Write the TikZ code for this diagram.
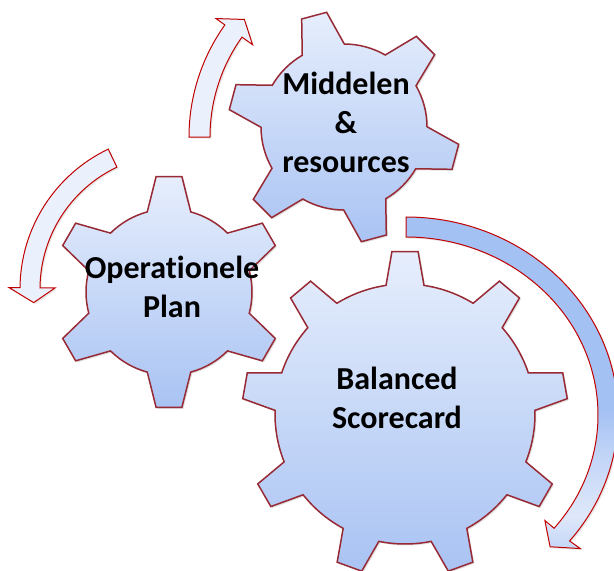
\documentclass[tikz,border=0pt]{standalone}
\usepackage{fontspec}
\setmainfont{Carlito}[Ligatures={NoCommon,NoRequired}]
\usetikzlibrary{shadows}

\definecolor{cogtop}{HTML}{E6EEFC}
\definecolor{cogbottom}{HTML}{A9C3F3}
\definecolor{cogline}{HTML}{982A35}
\definecolor{arrowline}{HTML}{C00000}
\definecolor{arrowfill}{HTML}{EAF1FD}
\definecolor{fadeA}{HTML}{A4C1F4}
\definecolor{fadeB}{HTML}{C2D5F7}
\definecolor{fadeC}{HTML}{DFE8FA}
\definecolor{fadeD}{HTML}{C4D6F7}

\pgfdeclareverticalshading{cyclefade}{100bp}{color(0bp)=(fadeD); color(25bp)=(fadeD); color(30bp)=(fadeC); color(39bp)=(fadeB); color(46bp)=(fadeA); color(100bp)=(fadeA)}

\tikzset{
  cog/.style={draw=cogline, line width=1.5pt, top color=cogtop, bottom color=cogbottom,
    drop shadow={opacity=0.25, shadow xshift=1.5pt, shadow yshift=-1.5pt}},
  turnarrow/.style={draw=arrowline, line width=1pt,
    drop shadow={opacity=0.2, shadow xshift=1.5pt, shadow yshift=-1.5pt}},
  coglabel/.style={font=\fontsize{32}{39}\selectfont\bfseries, align=center}
}

% center, teeth, outer r, root r, tip half angle, base half angle, rotation
\newcommand{\cogwheel}[7]{%
  \draw[cog, shift={#1}] ({#7-#6}:#4)
    \foreach \k [evaluate=\k as \a using #7+360/#2*(\k-1)] in {1,...,#2} {
      -- ({\a-#6}:#4) -- ({\a-#5}:#3) -- ({\a+#5}:#3) -- ({\a+#6}:#4)
      arc[start angle={\a+#6}, end angle={\a+360/#2-#6}, radius=#4]
    } -- cycle;}

\begin{document}
\begin{tikzpicture}[x=1pt, y=1pt]
  \useasboundingbox (0,0) rectangle (614,-571);

  % arrows
  \draw[turnarrow, fill=arrowfill, shift={(382,-137)}] (180:193) arc[start angle=180, end angle=144.5, radius=193]
    -- (144.5:204) -- (139.5:181) -- (144.5:159) -- (144.5:172) arc[start angle=144.5, end angle=180, radius=172] -- cycle;
  \draw[turnarrow, fill=arrowfill, shift={(175,-289)}] (115.5:155) arc[start angle=115.5, end angle=179.5, radius=155]
    -- (179.5:166) -- (185.5:142) -- (179.5:120) -- (179.5:135) arc[start angle=179.5, end angle=115.5, radius=135] -- cycle;
  \draw[turnarrow, shading=cyclefade, shift={(406,-415)}] (90:212pt and 198pt) arc[start angle=90, end angle=-39.5, x radius=212pt, y radius=198pt]
    -- (-39.5:226pt and 210pt) -- (-44.5:202pt and 188pt) -- (-39.5:180pt and 166pt) -- (-39.5:192pt and 178pt)
    arc[start angle=-39.5, end angle=90, x radius=192pt, y radius=178pt] -- cycle;

  % gears
  \cogwheel{(169,-292)}{6}{116}{83}{6.4}{15.2}{90}
  \cogwheel{(344,-127)}{6}{116}{83}{6.4}{15.2}{105}
  \cogwheel{(405,-414)}{9}{163}{130}{4.6}{8.4}{90}

  \node[coglabel, anchor=base] (plan) at (172,-317) {Operationele\\Plan};
  \node[coglabel, anchor=base] (means) at (346,-172) {Middelen\\\&\\resources};
  \node[coglabel, anchor=base] (bsc) at (397,-428) {Balanced\\Scorecard};
\end{tikzpicture}
\end{document}
